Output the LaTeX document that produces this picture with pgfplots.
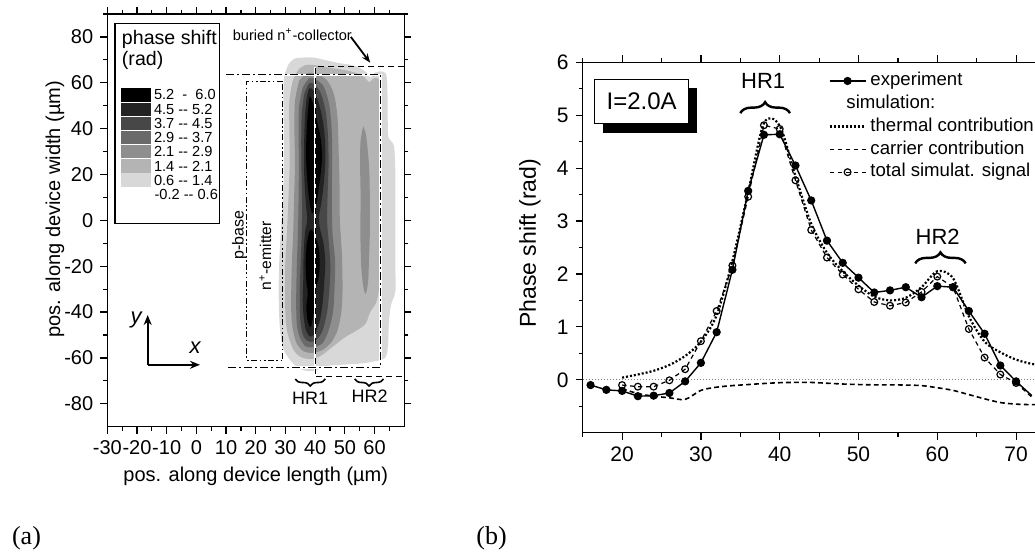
\documentclass[border=0pt]{standalone}
\usepackage{fontspec}
\setmainfont{Liberation Sans}
\newfontfamily\serifpanel{Liberation Serif}
\usepackage{pgfplots}
\pgfplotsset{compat=1.18}
\usetikzlibrary{arrows.meta,decorations.pathreplacing}

% contour shades, lowest level first
\definecolor{lvA}{HTML}{D8D8D8}
\definecolor{lvB}{HTML}{B4B4B4}
\definecolor{lvC}{HTML}{8E8E8E}
\definecolor{lvD}{HTML}{6A6A6A}
\definecolor{lvE}{HTML}{474747}
\definecolor{lvF}{HTML}{232323}
\definecolor{lvG}{HTML}{000000}

\newcommand{\fsz}[1]{\fontsize{#1}{#1}\selectfont}

\tikzset{
  dashdot/.style={line width=0.6pt, dash pattern=on 4pt off 1.5pt on 1pt off 1.5pt},
  dashdotdot/.style={line width=0.6pt, dash pattern=on 3pt off 1.2pt on 0.9pt off 1.2pt on 0.9pt off 1.2pt},
  dashline/.style={line width=0.6pt, dash pattern=on 3pt off 2pt},
  under/.style={white, line width=1.1pt},
  expstyle/.style={black, line width=0.7pt, solid, mark=*, mark size=1.7pt, mark options={solid, fill=black}},
  thermstyle/.style={black, line width=1.1pt, dash pattern=on 1pt off 1pt},
  carrstyle/.style={black, line width=0.8pt, dash pattern=on 2.4pt off 1.6pt},
  totstyle/.style={black, line width=0.6pt, dash pattern=on 2.2pt off 1.8pt, mark=o, mark size=1.7pt, mark options={solid, fill=white}},
}

\begin{document}
\begin{tikzpicture}
\useasboundingbox (0,0) rectangle (517.5pt,276pt);
\clip (0,0) rectangle (517.5pt,276pt);

%% ---- panel (a): phase shift map ----
\begin{axis}[
  at={(53.65pt,62.65pt)}, anchor=south west,
  scale only axis, width=148.5pt, height=206.35pt,
  xmin=-30, xmax=70, ymin=-90, ymax=90,
  xtick={-30,-20,...,60},
  xticklabels={-30,-20,-10,0,10,20,30,40,50,60},
  minor xtick={-25,-15,...,65},
  ytick={-80,-60,...,80},
  yticklabels={-80,-60,-40,-20,0,20,40,60,80},
  minor ytick={-70,-50,...,90},
  tick align=outside,
  major tick length=3.5pt, minor tick length=2pt,
  tick style={line width=0.6pt, black},
  axis line style={line width=0.6pt},
  tick label style={font=\fsz{10}},
  xlabel={pos. along device length (µm)},
  ylabel={pos. along device width (µm)},
  label style={font=\fsz{10}},
  xlabel style={at={(axis description cs:0.5,-0.121)}, anchor=center},
  ylabel style={at={(axis description cs:-0.176,0.527)}, anchor=center},
  clip=false,
]
% filled contour levels (nested regions)
\addplot[fill=lvA, draw=none, smooth] coordinates {
  (29.5,62.7) (31,68) (33,70.5) (36,71) (39.5,71) (43,70) (48,68.6) (52,67.8)
  (55,66.5) (57.3,64.5) (58.6,62.3) (60,64.3) (62,65) (63.8,64) (64.3,58)
  (64.4,45) (64.7,36) (66.5,32.5) (67,20) (67,0) (67,-20) (67,-31) (65.5,-37)
  (64.8,-45) (64.5,-55) (63.5,-60) (60,-61.5) (55,-62.5) (49,-63) (44,-63.5)
  (40,-65.5) (36.5,-65.5) (33.5,-63.5) (31,-60) (29,-55) (28,-45) (27.7,-30)
  (28,-15) (28.7,0) (29.3,15) (29.5,30) (29.4,45) (29.3,55) (29.5,62.7)
};
\addplot[fill=lvB, draw=none, smooth] coordinates {
  (34.5,66) (37,67.8) (41,67.5) (45,66.5) (50,65.5) (54,64.2) (56.5,62.5)
  (58.2,60.3) (59.8,62) (61.5,61.5) (61.9,55) (61.8,40) (61.9,20) (61.9,0)
  (61.9,-20) (61.5,-30) (60.5,-36) (58.5,-40) (57,-45) (54,-48) (50,-51)
  (46,-55) (42,-59) (38.5,-60.5) (35,-59.5) (32.5,-56) (30.5,-48) (29.9,-38)
  (29.9,-20) (30.5,-5) (31,10) (31.4,25) (31.3,40) (31.3,52) (32.5,61) (34.5,66)
};
\addplot[fill=lvC, draw=none, smooth] coordinates {
  (34.6,61) (37.5,64.3) (41,63.5) (44,61) (46.3,55) (47.5,45) (47.9,30)
  (48.2,15) (48.3,0) (49,-15) (49.2,-30) (48.8,-40) (47.5,-48) (45.5,-53)
  (42.5,-56.5) (39,-57.8) (36,-57) (33.7,-53.5) (32.4,-47) (31.9,-38)
  (32.1,-20) (32.6,-5) (32.9,10) (33.2,25) (33,40) (33.2,52) (34.6,61)
};
\addplot[fill=lvC, draw=none, smooth] coordinates {
  (56.2,41) (57,38) (57.6,32) (58.2,22) (58.4,10) (58.4,-5) (58.1,-18)
  (57.8,-27) (57,-32) (56.2,-29) (55.5,-20) (55.2,-5) (55.3,10) (55.1,25)
  (55.3,35) (56.2,41)
};
\addplot[fill=lvD, draw=none, smooth] coordinates {
  (35.8,58) (38,62) (40.5,61.2) (43,58) (44.8,50) (45.6,38) (45.7,25)
  (45.6,10) (45.8,-5) (46.7,-18) (46.5,-30) (46,-40) (44.5,-48) (42.5,-53.5)
  (39.5,-55.3) (36.8,-55) (34.8,-51) (33.8,-45) (33.6,-35) (33.8,-20)
  (34.2,-5) (34.4,10) (34.5,25) (34.4,40) (34.6,50) (35.8,58)
};
\addplot[fill=lvE, draw=none, smooth] coordinates {
  (36.3,55) (38,59.8) (40,59) (42,55) (43.6,47) (44.3,37) (44.5,25) (44.2,12)
  (44,0) (44.6,-10) (45.1,-20) (44.8,-30) (44,-40) (42.5,-48) (40.5,-52)
  (38.3,-53) (36.2,-51) (35.1,-45) (34.8,-35) (35,-22) (35.4,-8) (35.6,5)
  (35.4,20) (35.3,35) (35.5,47) (36.3,55)
};
\addplot[fill=lvF, draw=none, smooth] coordinates {
  (37.1,53) (38,57.6) (39.5,56.5) (41,52) (42.5,44) (43.3,35) (43.4,25)
  (42.8,15) (42,7) (41.3,2) (41.5,-3) (42.8,-10) (43.4,-18) (43,-28)
  (42.5,-36) (41.5,-44) (39.8,-49.5) (38.3,-50.7) (36.9,-48) (36.1,-42)
  (35.8,-35) (36,-25) (36.1,-15) (36.6,-5) (37.3,0) (36.8,8) (36.3,20)
  (36.3,35) (36.6,46) (37.1,53)
};
\addplot[fill=lvG, draw=none, smooth] coordinates {
  (37.8,51) (38.3,54) (39.5,50) (40.5,44) (41.8,36) (42.3,28) (41.8,20)
  (41,12) (40.2,6) (39,3) (38.2,7) (37.5,15) (37,25) (37,35) (37.4,45) (37.8,51)
};
\addplot[fill=lvG, draw=none, smooth] coordinates {
  (38,-5) (38.8,-4) (40,-7) (41.2,-12) (41.5,-20) (41,-26) (40.2,-30)
  (40,-36) (39.3,-42) (38.5,-46.5) (37.5,-44) (37,-38) (37.5,-32) (37,-26)
  (36.8,-18) (37.2,-10) (38,-5)
};

% device outlines
\draw[under] (axis cs:40,67) -- (axis cs:40,-68.2);
\draw[dashline] (axis cs:70,67) -- (axis cs:40,67) -- (axis cs:40,-68.2) -- (axis cs:70,-68.2);
\draw[under] (axis cs:10,63.5) -- (axis cs:62,63.5) -- (axis cs:62,-64.2) -- (axis cs:10,-64.2);
\draw[dashdot] (axis cs:10,63.5) -- (axis cs:62,63.5) -- (axis cs:62,-64.2) -- (axis cs:10,-64.2);
\draw[dashdotdot] (axis cs:29.1,60.5) -- (axis cs:17,60.5) -- (axis cs:17,-61.2) -- (axis cs:29.1,-61.2) -- cycle;
\node[rotate=90, font=\fsz{8}] at (axis cs:14.5,-6.4) {p-base};
\node[rotate=90, font=\fsz{7.8}] at (axis cs:23.2,-15.5) {n\textsuperscript{+}-emitter};
\node[font=\fsz{7.3}] at (axis cs:32.3,80.8) {buried n\textsuperscript{+}-collector};
\draw[line width=0.9pt, -{Stealth[length=4.5pt,width=3.5pt]}] (axis cs:52,80) -- (axis cs:58.5,68.8);

% heating regions
\draw[decorate, decoration={brace, amplitude=3.5pt}, line width=0.8pt] (axis cs:43.4,-69.2) -- (axis cs:33.3,-69.2);
\draw[decorate, decoration={brace, amplitude=3.5pt}, line width=0.8pt] (axis cs:63,-69.2) -- (axis cs:53.3,-69.2);
\node[font=\fsz{9}] at (axis cs:38.3,-77.6) {HR1};
\node[font=\fsz{9}] at (axis cs:58.3,-76.8) {HR2};

% x-y orientation sketch
\draw[line width=1pt, -{Stealth[length=5pt,width=4pt]}] (axis cs:-16.4,-63) -- (axis cs:-16.4,-41.3);
\draw[line width=1pt, -{Stealth[length=5pt,width=4pt]}] (axis cs:-16.4,-63) -- (axis cs:1.2,-63);
\node[font=\itshape\fsz{11}] at (axis cs:-20.3,-43.5) {y};
\node[font=\itshape\fsz{11}] at (axis cs:-0.4,-55.7) {x};

% colour key
\draw[line width=0.6pt, fill=white] (axis cs:-27.4,85.9) rectangle (axis cs:7.75,-1.3);
\node[anchor=west, font=\fsz{9.8}, inner sep=0pt] at (axis cs:-25.2,78.7) {phase shift};
\node[anchor=west, font=\fsz{9.8}, inner sep=0pt] at (axis cs:-25.2,69.9) {(rad)};
\fill[lvG] (axis cs:-25.4,51.8) rectangle (axis cs:-15.4,57.6);
\fill[lvF] (axis cs:-25.4,45.5) rectangle (axis cs:-15.4,51.3);
\fill[lvE] (axis cs:-25.4,39.4) rectangle (axis cs:-15.4,45.2);
\fill[lvD] (axis cs:-25.4,33.2) rectangle (axis cs:-15.4,39.0);
\fill[lvC] (axis cs:-25.4,27.1) rectangle (axis cs:-15.4,32.9);
\fill[lvB] (axis cs:-25.4,20.8) rectangle (axis cs:-15.4,26.6);
\fill[lvA] (axis cs:-25.4,14.7) rectangle (axis cs:-15.4,20.5);
\begin{scope}[every node/.style={anchor=west, font=\fsz{7.3}, inner sep=0pt}]
\node at (axis cs:-14.4,54.7) {5.2\ \ -\ \ 6.0};
\node at (axis cs:-14.4,48.4) {4.5 -{}- 5.2};
\node at (axis cs:-14.4,42.3) {3.7 -{}- 4.5};
\node at (axis cs:-14.4,36.1) {2.9 -{}- 3.7};
\node at (axis cs:-14.4,30.0) {2.1 -{}- 2.9};
\node at (axis cs:-14.4,23.7) {1.4 -{}- 2.1};
\node at (axis cs:-14.4,17.6) {0.6 -{}- 1.4};
\node at (axis cs:-14.2,11.4) {-0.2 -{}- 0.6};
\end{scope}
\end{axis}

%% ---- panel (b): phase shift profile ----
\begin{axis}[
  at={(291.35pt,59.65pt)}, anchor=south west,
  scale only axis, width=236.4pt, height=185.2pt,
  xmin=15, xmax=75, ymin=-1, ymax=6,
  xtick={20,30,...,70},
  xticklabels={20,30,40,50,60,70},
  minor xtick={15,25,...,75},
  ytick={0,1,...,6},
  yticklabels={0,1,2,3,4,5,6},
  minor ytick={-0.5,0.5,...,5.5},
  tick align=outside,
  major tick length=3.5pt, minor tick length=2pt,
  tick style={line width=0.6pt, black},
  axis line style={line width=0.6pt},
  tick label style={font=\fsz{10.5}},
  ylabel={Phase shift (rad)},
  ylabel style={font=\fsz{11.5}, at={(axis description cs:-0.1115,0.511)}, anchor=center},
  legend cell align=left,
  legend style={at={(rel axis cs:0.519,0.978)}, anchor=north west, draw=none, fill=none,
    font=\fsz{9.3}, inner sep=0pt, row sep=1.3pt, column sep=1.5pt,
    nodes={inner sep=0.4pt, text height=7pt, text depth=2.3pt}},
  legend image code/.code={\draw[mark repeat=2,mark phase=2,#1] plot coordinates {(0pt,0pt) (9pt,0pt) (18pt,0pt)};},
]
\draw[gray, line width=0.5pt, dash pattern=on 0.6pt off 0.9pt] (axis cs:15,0) -- (axis cs:75,0);

% simulation: thermal contribution
\addplot[thermstyle, smooth, forget plot] coordinates {
  (20,0.04) (22,0.10) (24,0.17) (26,0.28) (28,0.45) (30,0.72) (32,1.22) (34,2.25)
  (36,3.55) (38,4.85) (40,4.80) (42,3.85) (44,2.95) (46,2.40) (48,2.05) (50,1.78)
  (52,1.57) (54,1.50) (56,1.55) (58,1.75) (60,2.05) (62,1.92) (64,1.20) (66,0.72)
  (68,0.52) (70,0.38) (72,0.30) (74,0.25)
};
% simulation: carrier contribution
\addplot[carrstyle, smooth, forget plot] coordinates {
  (20,-0.17) (22,-0.26) (24,-0.31) (26,-0.34) (28,-0.37) (30,-0.20) (32,-0.14)
  (34,-0.11) (36,-0.09) (38,-0.07) (40,-0.055) (42,-0.05) (44,-0.05) (46,-0.065)
  (48,-0.08) (50,-0.09) (52,-0.095) (54,-0.095) (56,-0.10) (58,-0.11) (60,-0.15)
  (62,-0.20) (64,-0.28) (66,-0.36) (68,-0.43) (70,-0.46) (72,-0.47) (74,-0.47)
};
% experiment
\addplot[expstyle, forget plot] coordinates {
  (16,-0.10) (18,-0.19) (20,-0.21) (22,-0.31) (24,-0.30) (26,-0.25) (28,-0.03)
  (30,0.32) (32,0.90) (34,2.08) (36,3.57) (38,4.63) (40,4.64) (42,4.05) (44,3.39)
  (46,2.63) (48,2.21) (50,1.93) (52,1.65) (54,1.69) (56,1.75) (58,1.56) (60,1.77)
  (62,1.75) (64,1.30) (66,0.87) (68,0.27) (70,-0.03)
};
\addplot[expstyle, no marks, forget plot] coordinates {(70,-0.03) (72,-0.30)};
% total simulated signal
\addplot[totstyle, forget plot] coordinates {
  (20,-0.10) (22,-0.13) (24,-0.13) (26,-0.01) (28,0.20) (30,0.73) (32,1.30)
  (34,2.16) (36,3.46) (38,4.81) (40,4.74) (42,3.77) (44,2.83) (46,2.31) (48,1.99)
  (50,1.71) (52,1.47) (54,1.40) (56,1.46) (58,1.66) (60,1.95) (62,1.75) (64,0.96)
  (66,0.42) (68,0.10) (70,-0.06)
};
\addplot[totstyle, no marks, forget plot] coordinates {(70,-0.06) (72,-0.33)};

\addlegendimage{expstyle}
\addlegendentry{experiment}
\addlegendimage{empty legend}
\addlegendentry{\hspace*{-12pt}simulation:}
\addlegendimage{thermstyle}
\addlegendentry{thermal contribution}
\addlegendimage{carrstyle}
\addlegendentry{carrier contribution}
\addlegendimage{totstyle}
\addlegendentry{total simulat. signal}

% current label with drop shadow
\fill[black] (axis cs:17.54,4.67) rectangle (axis cs:29.47,5.52);
\draw[line width=0.5pt, fill=white] (axis cs:16.56,4.84) rectangle (axis cs:28.4,5.67);
\node[font=\fsz{12}] at (axis cs:22.48,5.255) {I=2.0A};

% heating regions
\draw[decorate, decoration={brace, amplitude=5.5pt}, line width=1.2pt] (axis cs:35.0,5.04) -- (axis cs:41.3,5.04);
\draw[decorate, decoration={brace, amplitude=5.5pt}, line width=1.2pt] (axis cs:57.2,2.2) -- (axis cs:63.6,2.2);
\node[font=\fsz{11}] at (axis cs:37.9,5.64) {HR1};
\node[font=\fsz{11}] at (axis cs:60.05,2.70) {HR2};
\end{axis}

\node[font=\serifpanel\fsz{13}] at (13.25pt,7pt) {(a)};
\node[font=\serifpanel\fsz{13}] at (245.75pt,7pt) {(b)};
\end{tikzpicture}
\end{document}
